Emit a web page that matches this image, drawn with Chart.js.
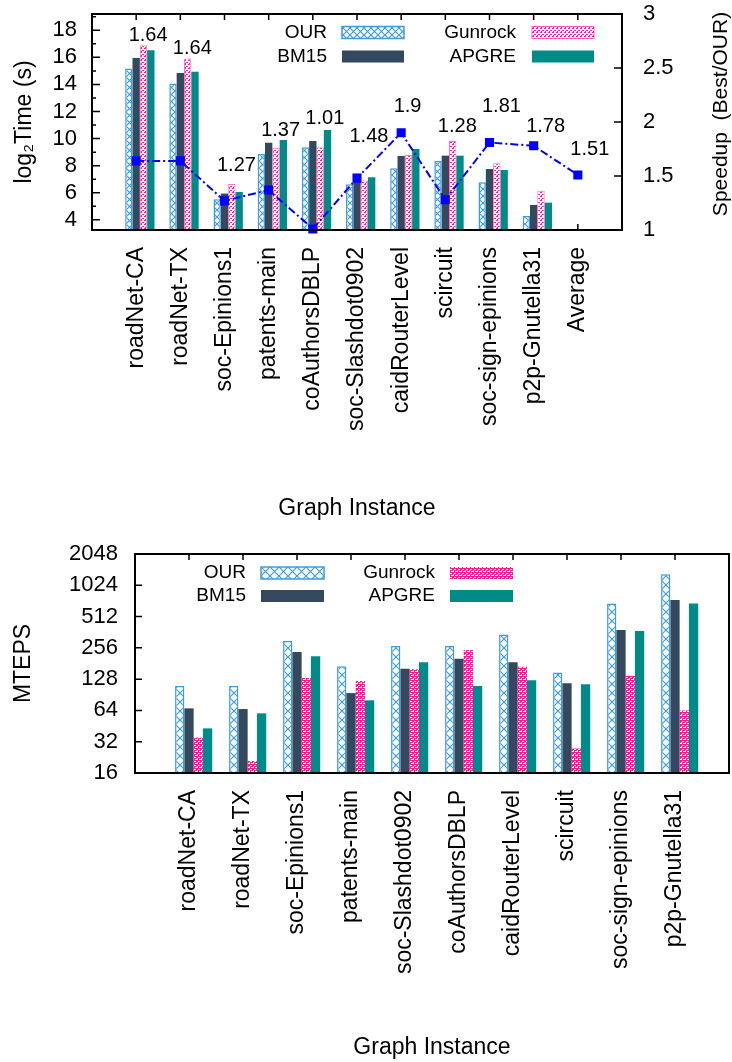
<!DOCTYPE html>
<html>
<head>
<meta charset="utf-8">
<script src="https://cdn.jsdelivr.net/npm/chart.js@4.4.1/dist/chart.umd.min.js"></script>
<style>
  html, body { margin: 0; padding: 0; background: #fff; }
  canvas { display: block; }
</style>
</head>
<body>
<canvas id="timeChart" width="732" height="531"></canvas>
<canvas id="tepsChart" width="732" height="531"></canvas>
<script>
// ---- top chart: log2 time + speedup ----
const timeGraphs = ["roadNet-CA", "roadNet-TX", "soc-Epinions1", "patents-main", "coAuthorsDBLP",
  "soc-Slashdot0902", "caidRouterLevel", "scircuit", "soc-sign-epinions", "p2p-Gnutella31", "Average"];
const timeOUR     = [15.18, 14.07, 5.52, 8.86, 9.36, 6.63, 7.81, 8.35, 6.78, 4.29, null];
const timeBM15    = [15.96, 14.85, 5.94, 9.70, 9.82, 7.39, 8.72, 8.74, 7.76, 5.10, null];
const timeGunrock = [16.90, 15.92, 6.65, 9.33, 9.36, 6.90, 8.79, 9.82, 8.18, 6.14, null];
const timeAPGRE   = [16.53, 14.93, 6.06, 9.90, 10.63, 7.15, 9.23, 8.74, 7.68, 5.27, null];
const speedup     = [1.64, 1.64, 1.27, 1.37, 1.01, 1.48, 1.9, 1.28, 1.81, 1.78, 1.51];
// where the speedup numbers sit, in log2 time units (left axis)
const speedupLabelAt = [17.65, 16.67, 8.05, 10.58, 11.52, 10.17, 12.35, 10.88, 12.35, 10.88, 9.16];
const timeTicks  = [4, 6, 8, 10, 12, 14, 16, 18];
const timeMinor  = [5, 7, 9, 11, 13, 15, 17, 19];
const speedTicks = [1, 1.5, 2, 2.5, 3];

// ---- bottom chart: MTEPS ----
const tepsGraphs = ["roadNet-CA", "roadNet-TX", "soc-Epinions1", "patents-main", "soc-Slashdot0902",
  "coAuthorsDBLP", "caidRouterLevel", "scircuit", "soc-sign-epinions", "p2p-Gnutella31"];
const tepsOUR     = [110, 110, 298, 170, 267, 267, 345, 148, 685, 1305];
const tepsBM15    = [67, 66, 233, 94, 161, 201, 186, 117, 380, 739];
const tepsGunrock = [35, 20.9, 131, 123, 159, 244, 168, 27.5, 137, 64];
const tepsAPGRE   = [43, 60, 212, 80, 186, 110, 125, 114.6, 372, 685];
const tepsTicks   = [16, 32, 64, 128, 256, 512, 1024, 2048];

const FONT = "'Liberation Sans', Arial, Helvetica, sans-serif";
Chart.defaults.font.family = FONT;
Chart.defaults.color = "#000";

const BLUE = "#3d9ce0", SLATE = "#34495e", TEAL = "#008b89", PINK = "#ff1493";

// empty slot at both ends so the first/last groups sit one step in from the border
const pad = arr => [null, ...arr, null];
const padLabels = arr => ["", ...arr, ""];

// pin the plot area: no extra room for overhanging tick labels
function fixBox(prop, size) {
  return s => {
    s[prop] = size;
    s.paddingTop = s.paddingBottom = s.paddingLeft = s.paddingRight = 0;
  };
}

function tile(size, draw) {
  const c = document.createElement("canvas");
  c.width = c.height = size;
  const g = c.getContext("2d");
  draw(g, size);
  return c;
}
function crossTile(size) {
  return tile(size, (g, s) => {
    g.fillStyle = "#fff"; g.fillRect(0, 0, s, s);
    g.strokeStyle = BLUE; g.lineWidth = 1.2;
    g.beginPath();
    g.moveTo(0, 0); g.lineTo(s, s);
    g.moveTo(s, 0); g.lineTo(0, s);
    g.stroke();
  });
}
function dotTile(size, bg, fg, dots) {
  return tile(size, (g, s) => {
    g.fillStyle = bg; g.fillRect(0, 0, s, s);
    g.fillStyle = fg;
    dots.forEach(([x, y]) => g.fillRect(x, y, 1, 1));
  });
}

// frame with inward ticks, gnuplot style
const framePlugin = {
  id: "frame",
  beforeDatasetsDraw(chart, args, o) {
    const { ctx, chartArea: a, scales } = chart;
    ctx.save();
    ctx.strokeStyle = "#000";
    ctx.lineWidth = 1.5;
    ctx.beginPath();
    const x = scales.x;
    for (let i = 1; i < x.ticks.length - 1; i++) {
      const px = x.getPixelForTick(i);
      ctx.moveTo(px, a.top); ctx.lineTo(px, a.top + o.xTick);
      ctx.moveTo(px, a.bottom); ctx.lineTo(px, a.bottom - o.xTick);
    }
    (o.left || []).forEach(v => {
      const py = scales.y.getPixelForValue(v);
      ctx.moveTo(a.left, py); ctx.lineTo(a.left + o.yTick, py);
    });
    (o.leftMinor || []).forEach(v => {
      const py = scales.y.getPixelForValue(v);
      if (py < a.top + 1) return;
      ctx.moveTo(a.left, py); ctx.lineTo(a.left + o.yTick / 2, py);
    });
    (o.right || []).forEach(v => {
      const py = scales.y1.getPixelForValue(v);
      ctx.moveTo(a.right, py); ctx.lineTo(a.right - o.yTick, py);
    });
    ctx.stroke();
    ctx.restore();
  },
  afterDatasetsDraw(chart) {
    const { ctx, chartArea: a } = chart;
    ctx.save();
    ctx.strokeStyle = "#000";
    ctx.lineWidth = 2;
    ctx.strokeRect(a.left, a.top, a.right - a.left, a.bottom - a.top);
    ctx.restore();
  }
};

// two-column key: text right-aligned, swatch to its right
const keyPlugin = {
  id: "key",
  afterDraw(chart, args, o) {
    const ctx = chart.ctx;
    ctx.save();
    ctx.font = o.font;
    ctx.textAlign = "right";
    ctx.textBaseline = "middle";
    o.items.forEach((name, k) => {
      const ds = chart.data.datasets.find(d => d.label === name);
      const col = k % 2, row = Math.floor(k / 2);
      const y = o.rowY[row];
      ctx.fillStyle = "#000";
      ctx.fillText(name, o.textRight[col], y);
      const sx = o.swatchLeft[col], sy = y - o.swatchH / 2;
      ctx.fillStyle = ds.backgroundColor;
      ctx.fillRect(sx, sy, o.swatchW, o.swatchH);
      if (ds.borderWidth) {
        ctx.strokeStyle = ds.borderColor;
        ctx.lineWidth = ds.borderWidth;
        ctx.strokeRect(sx, sy, o.swatchW, o.swatchH);
      }
    });
    ctx.restore();
  }
};

// speedup numbers and the right axis title
const notesPlugin = {
  id: "notes",
  afterDraw(chart, args, o) {
    const { ctx, scales } = chart;
    ctx.save();
    ctx.font = o.font;
    ctx.fillStyle = "#000";
    ctx.textAlign = "left";
    ctx.textBaseline = "middle";
    const step = scales.x.getPixelForValue(2) - scales.x.getPixelForValue(1);
    speedup.forEach((v, i) => {
      const px = scales.x.getPixelForValue(i + 1) - step * 0.17;
      const py = scales.y.getPixelForValue(speedupLabelAt[i]);
      ctx.fillText(String(v), px, py);
    });
    ctx.translate(o.titleX, o.titleY);
    ctx.rotate(-Math.PI / 2);
    ctx.textAlign = "center";
    ctx.font = o.titleFont;
    ctx.fillText("Speedup  (Best/OUR)", 0, 0);
    ctx.restore();
  }
};

// ---------- top chart ----------
const tctx = document.getElementById("timeChart").getContext("2d");
const tOurFill = tctx.createPattern(crossTile(7), "repeat");
const tGunFill = tctx.createPattern(dotTile(4, "#fff", PINK, [[0, 0], [1, 0], [2, 2], [3, 2], [1, 3]]), "repeat");

new Chart(tctx, {
  type: "bar",
  data: {
    labels: padLabels(timeGraphs),
    datasets: [
      { type: "line", label: "Speedup", data: pad(speedup), yAxisID: "y1",
        borderColor: "#0000ff", backgroundColor: "#0000ff", borderWidth: 2,
        borderDash: [8, 3, 2, 3], pointStyle: "rect", pointRadius: 5, pointHoverRadius: 5,
        clip: 8, order: 0 },
      { label: "", data: pad(timeGraphs.map(() => null)), order: 1 },
      { label: "OUR", data: pad(timeOUR), backgroundColor: tOurFill, borderColor: BLUE, borderWidth: 1.5, order: 1 },
      { label: "BM15", data: pad(timeBM15), backgroundColor: SLATE, borderWidth: 0, order: 1 },
      { label: "Gunrock", data: pad(timeGunrock), backgroundColor: tGunFill, borderColor: "rgba(255,20,147,0.6)", borderWidth: 1, order: 1 },
      { label: "APGRE", data: pad(timeAPGRE), backgroundColor: TEAL, borderWidth: 0, order: 1 }
    ]
  },
  options: {
    responsive: false,
    animation: false,
    layout: { padding: { top: 14, left: 0, right: 0, bottom: 0 } },
    datasets: { bar: { categoryPercentage: 0.83, barPercentage: 1.0 } },
    plugins: {
      legend: { display: false },
      tooltip: { enabled: false },
      frame: { xTick: 6, yTick: 8, left: timeTicks, leftMinor: timeMinor, right: speedTicks.slice(1, -1) },
      key: { font: "19px " + FONT, items: ["OUR", "Gunrock", "BM15", "APGRE"],
        textRight: [327, 516], swatchLeft: [342, 532], swatchW: 62, swatchH: 12, rowY: [32.5, 56.5] },
      notes: { font: "20px " + FONT, titleFont: "21px " + FONT, titleX: 721, titleY: 114 }
    },
    scales: {
      x: {
        type: "category", offset: false,
        ticks: { autoSkip: false, maxRotation: 90, minRotation: 90, font: { size: 23 }, padding: 17 },
        grid: { display: false, drawTicks: false },
        border: { display: false },
        title: { display: true, text: "Graph Instance", font: { size: 23 }, padding: { top: 0, bottom: 9 } },
        afterFit: fixBox("height", 301)
      },
      y: {
        type: "linear", position: "left", min: 3.25, max: 19.2,
        afterBuildTicks: s => { s.ticks = timeTicks.map(v => ({ value: v })); },
        ticks: { font: { size: 22 }, padding: 15, callback: v => String(v) },
        grid: { display: false, drawTicks: false },
        border: { display: false },
        title: { display: true, text: "log₂Time (s)", font: { size: 23 }, padding: { top: 11 } },
        afterFit: fixBox("width", 92)
      },
      y1: {
        type: "linear", position: "right", min: 1, max: 3,
        afterBuildTicks: s => { s.ticks = speedTicks.map(v => ({ value: v })); },
        ticks: { font: { size: 22 }, padding: 21, callback: v => String(v) },
        grid: { display: false, drawTicks: false },
        border: { display: false },
        afterFit: fixBox("width", 110)
      }
    }
  },
  plugins: [framePlugin, keyPlugin, notesPlugin]
});

// ---------- bottom chart ----------
const bctx = document.getElementById("tepsChart").getContext("2d");
const bOurFill = bctx.createPattern(crossTile(9), "repeat");
const bGunFill = bctx.createPattern(dotTile(4, PINK, "#fff", [[0, 0], [1, 0], [2, 2], [3, 2], [1, 3], [3, 0]]), "repeat");

new Chart(bctx, {
  type: "bar",
  data: {
    labels: padLabels(tepsGraphs),
    datasets: [
      { label: "", data: pad(tepsGraphs.map(() => null)) },
      { label: "OUR", data: pad(tepsOUR), backgroundColor: bOurFill, borderColor: BLUE, borderWidth: 1.5 },
      { label: "BM15", data: pad(tepsBM15), backgroundColor: SLATE, borderWidth: 0 },
      { label: "Gunrock", data: pad(tepsGunrock), backgroundColor: bGunFill, borderWidth: 0 },
      { label: "APGRE", data: pad(tepsAPGRE), backgroundColor: TEAL, borderWidth: 0 }
    ]
  },
  options: {
    responsive: false,
    animation: false,
    layout: { padding: { top: 23, left: 0, right: 3, bottom: 0 } },
    datasets: { bar: { categoryPercentage: 0.86, barPercentage: 1.0 } },
    plugins: {
      legend: { display: false },
      tooltip: { enabled: false },
      frame: { xTick: 6, yTick: 7, left: tepsTicks.slice(1, -1) },
      key: { font: "19px " + FONT, items: ["OUR", "Gunrock", "BM15", "APGRE"],
        textRight: [246, 435], swatchLeft: [261, 450], swatchW: 63, swatchH: 12, rowY: [42, 65] }
    },
    scales: {
      x: {
        type: "category", offset: false,
        ticks: { autoSkip: false, maxRotation: 90, minRotation: 90, font: { size: 23 }, padding: 17 },
        grid: { display: false, drawTicks: false },
        border: { display: false },
        title: { display: true, text: "Graph Instance", font: { size: 23 }, padding: { top: 0, bottom: 1 } },
        afterFit: fixBox("height", 289)
      },
      y: {
        type: "logarithmic", min: 16, max: 2048,
        afterBuildTicks: s => { s.ticks = tepsTicks.map(v => ({ value: v })); },
        ticks: { font: { size: 22 }, padding: 17, callback: v => String(v) },
        grid: { display: false, drawTicks: false },
        border: { display: false },
        title: { display: true, text: "MTEPS", font: { size: 23 }, padding: { top: 10 } },
        afterFit: fixBox("width", 135)
      }
    }
  },
  plugins: [framePlugin, keyPlugin]
});
</script>
</body>
</html>
